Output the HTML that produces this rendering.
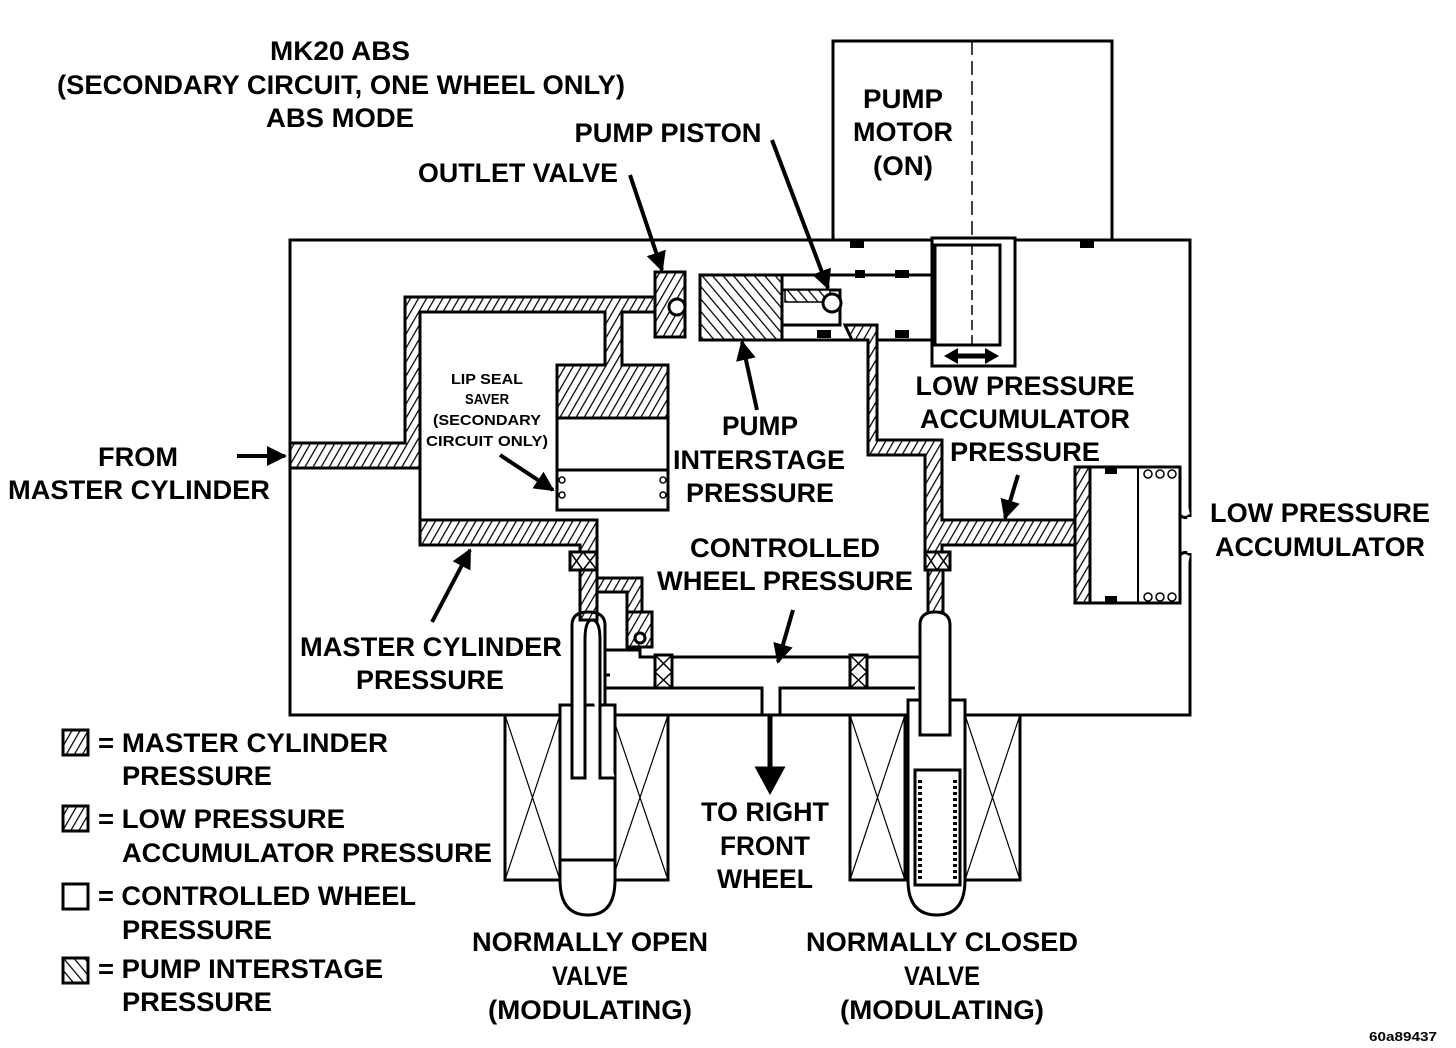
<!DOCTYPE html>
<html><head><meta charset="utf-8"><style>
html,body{margin:0;padding:0;background:#fff;}
svg{display:block;}
text{font-family:"Liberation Sans",sans-serif;font-weight:bold;fill:#000;}
</style></head><body>
<svg width="1456" height="1048" viewBox="0 0 1456 1048" xmlns="http://www.w3.org/2000/svg">
<defs>
<pattern id="h" width="7" height="7" patternUnits="userSpaceOnUse" patternTransform="rotate(30)">
<rect width="7" height="7" fill="#fff"/><line x1="0" y1="0" x2="0" y2="7" stroke="#000" stroke-width="2.5"/></pattern>
<pattern id="b" width="8" height="8" patternUnits="userSpaceOnUse" patternTransform="rotate(-40)">
<rect width="8" height="8" fill="#fff"/><line x1="0" y1="0" x2="0" y2="8" stroke="#000" stroke-width="2.5"/></pattern>
<marker id="ar" viewBox="0 0 10 10" refX="9" refY="5" markerWidth="5" markerHeight="5" orient="auto"><path d="M0,0L10,5L0,10z" fill="#000"/></marker>
</defs>
<g fill="none" stroke="#000" stroke-width="3">
<rect x="290" y="240" width="900" height="475" fill="#fff"/>
<rect x="833" y="41" width="279" height="199" fill="#fff"/>
<line x1="972" y1="41" x2="972" y2="240" stroke-width="1.5" stroke-dasharray="14 6"/>
<rect x="932" y="238" width="83" height="128" fill="#fff"/>
<rect x="935" y="245" width="65" height="100"/>
<line x1="972" y1="245" x2="972" y2="345" stroke-width="1.5" stroke-dasharray="10 5"/>
<line x1="955" y1="356" x2="988" y2="356" stroke-width="5"/>
<path d="M944,356L958,348L958,364Z M999,356L985,348L985,364Z" fill="#000" stroke="none"/>
<g fill="#000" stroke="none">
<rect x="850" y="240" width="14" height="8"/><rect x="1080" y="240" width="14" height="8"/>
<rect x="895" y="270" width="14" height="8"/><rect x="895" y="330" width="14" height="8"/>
<rect x="817" y="330" width="14" height="8"/><rect x="855" y="270" width="10" height="8"/>
</g>
<path d="M700,275H932M700,340H932" />
<rect x="700" y="275" width="82" height="65" fill="url(#b)"/>
<rect x="782" y="290" width="58" height="35" fill="#fff"/>
<rect x="785" y="290" width="45" height="12" fill="url(#b)" stroke-width="1.5"/>
<circle cx="832" cy="303" r="9" fill="#fff"/>
<rect x="655" y="272" width="30" height="65" fill="url(#h)"/>
<circle cx="677" cy="307" r="8" fill="#fff"/>
<path d="M290,443H405V297H655V312H622V365H668V418H557V365H605V312H420V520H597V570H580V545H420V468H290Z" fill="url(#h)"/>
<rect x="557" y="418" width="111" height="92" fill="#fff"/>
<line x1="557" y1="470" x2="668" y2="470"/>
<circle cx="562" cy="480" r="3" stroke-width="1.5"/><circle cx="562" cy="495" r="3" stroke-width="1.5"/>
<circle cx="663" cy="480" r="3" stroke-width="1.5"/><circle cx="663" cy="495" r="3" stroke-width="1.5"/>
<path d="M845,325H877V440H942V520H1075V545H942V570H925V455H868V340H852Z" fill="url(#h)"/>
<rect x="1075" y="467" width="105" height="136" fill="#fff"/>
<rect x="1075" y="467" width="15" height="136" fill="url(#h)"/>
<line x1="1138" y1="467" x2="1138" y2="603" stroke-width="2"/>
<g stroke-width="1.5"><circle cx="1148" cy="474" r="4"/><circle cx="1160" cy="474" r="4"/><circle cx="1172" cy="474" r="4"/>
<circle cx="1148" cy="597" r="4"/><circle cx="1160" cy="597" r="4"/><circle cx="1172" cy="597" r="4"/></g>
<g fill="#000" stroke="none"><rect x="1105" y="467" width="12" height="7"/><rect x="1105" y="596" width="12" height="7"/></g>
<path d="M1180,467V515Q1185,520 1190,515M1180,603V555Q1185,550 1190,555" fill="#fff"/>
<line x1="1190" y1="517" x2="1190" y2="553" stroke="#fff" stroke-width="5"/>
<rect x="570" y="552" width="27" height="18" fill="#fff"/><path d="M570,552L583,570L597,552M570,570L583,552L597,570" stroke-width="1.5"/>
<rect x="925" y="552" width="25" height="18" fill="#fff"/><path d="M925,552L937,570L950,552M925,570L937,552L950,570" stroke-width="1.5"/>
<rect x="580" y="570" width="17" height="50" fill="url(#h)"/>
<path d="M597,578H642V612H627V592H597Z" fill="url(#h)"/>
<rect x="627" y="612" width="25" height="35" fill="url(#h)"/><circle cx="640" cy="638" r="5" fill="#fff"/>
<rect x="928" y="570" width="15" height="50" fill="url(#h)"/>
<path d="M605,650H640V657H920M605,688H762V715M780,715V688H915" />
<path d="M605,675H610" />
<rect x="655" y="655" width="17" height="33" fill="#fff"/><path d="M655,655L672,672L655,688M672,655L655,672L672,688" stroke-width="1.5"/>
<rect x="850" y="655" width="17" height="33" fill="#fff"/><path d="M850,655L867,672L850,688M867,655L850,672L867,688" stroke-width="1.5"/>
<line x1="770" y1="715" x2="770" y2="770" stroke-width="5"/>
<path d="M757,768L783,768L770,792Z" fill="#000"/>
<rect x="505" y="715" width="55" height="165" fill="#fff"/><path d="M505,715L560,880M560,715L505,880" stroke-width="1.2"/>
<rect x="612" y="715" width="56" height="165" fill="#fff"/><path d="M612,715L668,880M668,715L612,880" stroke-width="1.2"/>
<path d="M560,705V880Q560,915 588,915Q615,915 615,880V705Z" fill="#fff"/>
<line x1="560" y1="860" x2="615" y2="860"/>
<path d="M572,625V778H585V640Q585,620 592,620Q600,620 600,640V778H615" fill="#fff"/>
<path d="M572,625Q572,612 588,612Q605,612 605,625V705" />
<rect x="850" y="715" width="55" height="165" fill="#fff"/><path d="M850,715L905,880M905,715L850,880" stroke-width="1.2"/>
<rect x="965" y="715" width="55" height="165" fill="#fff"/><path d="M965,715L1020,880M1020,715L965,880" stroke-width="1.2"/>
<path d="M908,700H965V880Q965,915 937,915Q908,915 908,880Z" fill="#fff"/>
<path d="M920,625Q920,612 935,612Q950,612 950,625V735H920Z" fill="#fff"/>
<rect x="915" y="770" width="45" height="115" fill="#fff"/>
<path d="M920,780V880M955,780V880" stroke-dasharray="3 3" stroke-width="4"/>
<rect x="63" y="730" width="25" height="25" fill="url(#h)"/>
<rect x="63" y="806" width="25" height="25" fill="url(#h)"/>
<rect x="63" y="884" width="25" height="25" fill="#fff"/>
<rect x="63" y="958" width="25" height="25" fill="url(#b)"/>
<g stroke-width="4" marker-end="url(#ar)">
<line x1="630" y1="175" x2="662" y2="270"/>
<line x1="772" y1="140" x2="828" y2="288"/>
<line x1="237" y1="456" x2="285" y2="456"/>
<line x1="500" y1="455" x2="553" y2="490"/>
<line x1="757" y1="410" x2="742" y2="342"/>
<line x1="432" y1="622" x2="470" y2="550"/>
<line x1="1018" y1="475" x2="1005" y2="518"/>
<line x1="793" y1="610" x2="778" y2="662"/>
</g>
</g>
<g font-size="27" text-anchor="middle">
<text x="340" y="60" textLength="140" lengthAdjust="spacingAndGlyphs">MK20 ABS</text>
<text x="341" y="94" textLength="568" lengthAdjust="spacingAndGlyphs">(SECONDARY CIRCUIT, ONE WHEEL ONLY)</text>
<text x="340" y="127" textLength="148" lengthAdjust="spacingAndGlyphs">ABS MODE</text>
<text x="903" y="108" textLength="80" lengthAdjust="spacingAndGlyphs">PUMP</text>
<text x="903" y="141" textLength="100" lengthAdjust="spacingAndGlyphs">MOTOR</text>
<text x="903" y="175" textLength="60" lengthAdjust="spacingAndGlyphs">(ON)</text>
<text x="668" y="142" textLength="187" lengthAdjust="spacingAndGlyphs">PUMP PISTON</text>
<text x="518" y="182" textLength="200" lengthAdjust="spacingAndGlyphs">OUTLET VALVE</text>
<text x="138" y="466" textLength="80" lengthAdjust="spacingAndGlyphs">FROM</text>
<text x="139" y="499" textLength="262" lengthAdjust="spacingAndGlyphs">MASTER CYLINDER</text>
<text x="760" y="435" textLength="76" lengthAdjust="spacingAndGlyphs">PUMP</text>
<text x="759" y="469" textLength="172" lengthAdjust="spacingAndGlyphs">INTERSTAGE</text>
<text x="760" y="502" textLength="148" lengthAdjust="spacingAndGlyphs">PRESSURE</text>
<text x="1025" y="395" textLength="219" lengthAdjust="spacingAndGlyphs">LOW PRESSURE</text>
<text x="1025" y="428" textLength="210" lengthAdjust="spacingAndGlyphs">ACCUMULATOR</text>
<text x="1025" y="461" textLength="150" lengthAdjust="spacingAndGlyphs">PRESSURE</text>
<text x="1320" y="522" textLength="220" lengthAdjust="spacingAndGlyphs">LOW PRESSURE</text>
<text x="1320" y="556" textLength="210" lengthAdjust="spacingAndGlyphs">ACCUMULATOR</text>
<text x="785" y="557" textLength="190" lengthAdjust="spacingAndGlyphs">CONTROLLED</text>
<text x="785" y="590" textLength="256" lengthAdjust="spacingAndGlyphs">WHEEL PRESSURE</text>
<text x="431" y="656" textLength="262" lengthAdjust="spacingAndGlyphs">MASTER CYLINDER</text>
<text x="430" y="689" textLength="148" lengthAdjust="spacingAndGlyphs">PRESSURE</text>
<text x="765" y="821" textLength="128" lengthAdjust="spacingAndGlyphs">TO RIGHT</text>
<text x="765" y="855" textLength="90" lengthAdjust="spacingAndGlyphs">FRONT</text>
<text x="765" y="888" textLength="96" lengthAdjust="spacingAndGlyphs">WHEEL</text>
<text x="590" y="951" textLength="236" lengthAdjust="spacingAndGlyphs">NORMALLY OPEN</text>
<text x="590" y="985" textLength="76" lengthAdjust="spacingAndGlyphs">VALVE</text>
<text x="590" y="1019" textLength="204" lengthAdjust="spacingAndGlyphs">(MODULATING)</text>
<text x="942" y="951" textLength="272" lengthAdjust="spacingAndGlyphs">NORMALLY CLOSED</text>
<text x="942" y="985" textLength="76" lengthAdjust="spacingAndGlyphs">VALVE</text>
<text x="942" y="1019" textLength="204" lengthAdjust="spacingAndGlyphs">(MODULATING)</text>
</g>
<g font-size="27" text-anchor="start">
<text x="98" y="752" textLength="290" lengthAdjust="spacingAndGlyphs">= MASTER CYLINDER</text>
<text x="122" y="785" textLength="150" lengthAdjust="spacingAndGlyphs">PRESSURE</text>
<text x="98" y="828" textLength="247" lengthAdjust="spacingAndGlyphs">= LOW PRESSURE</text>
<text x="122" y="862" textLength="370" lengthAdjust="spacingAndGlyphs">ACCUMULATOR PRESSURE</text>
<text x="98" y="905" textLength="318" lengthAdjust="spacingAndGlyphs">= CONTROLLED WHEEL</text>
<text x="122" y="939" textLength="150" lengthAdjust="spacingAndGlyphs">PRESSURE</text>
<text x="98" y="978" textLength="285" lengthAdjust="spacingAndGlyphs">= PUMP INTERSTAGE</text>
<text x="122" y="1011" textLength="150" lengthAdjust="spacingAndGlyphs">PRESSURE</text>
</g>
<g font-size="15" text-anchor="middle">
<text x="487" y="384" textLength="72" lengthAdjust="spacingAndGlyphs">LIP SEAL</text>
<text x="487" y="404" textLength="44" lengthAdjust="spacingAndGlyphs">SAVER</text>
<text x="487" y="425" textLength="108" lengthAdjust="spacingAndGlyphs">(SECONDARY</text>
<text x="487" y="446" textLength="122" lengthAdjust="spacingAndGlyphs">CIRCUIT ONLY)</text>
</g>
<text x="1403" y="1041" font-size="13" text-anchor="middle" textLength="68" lengthAdjust="spacingAndGlyphs">60a89437</text>
</svg>
</body></html>
